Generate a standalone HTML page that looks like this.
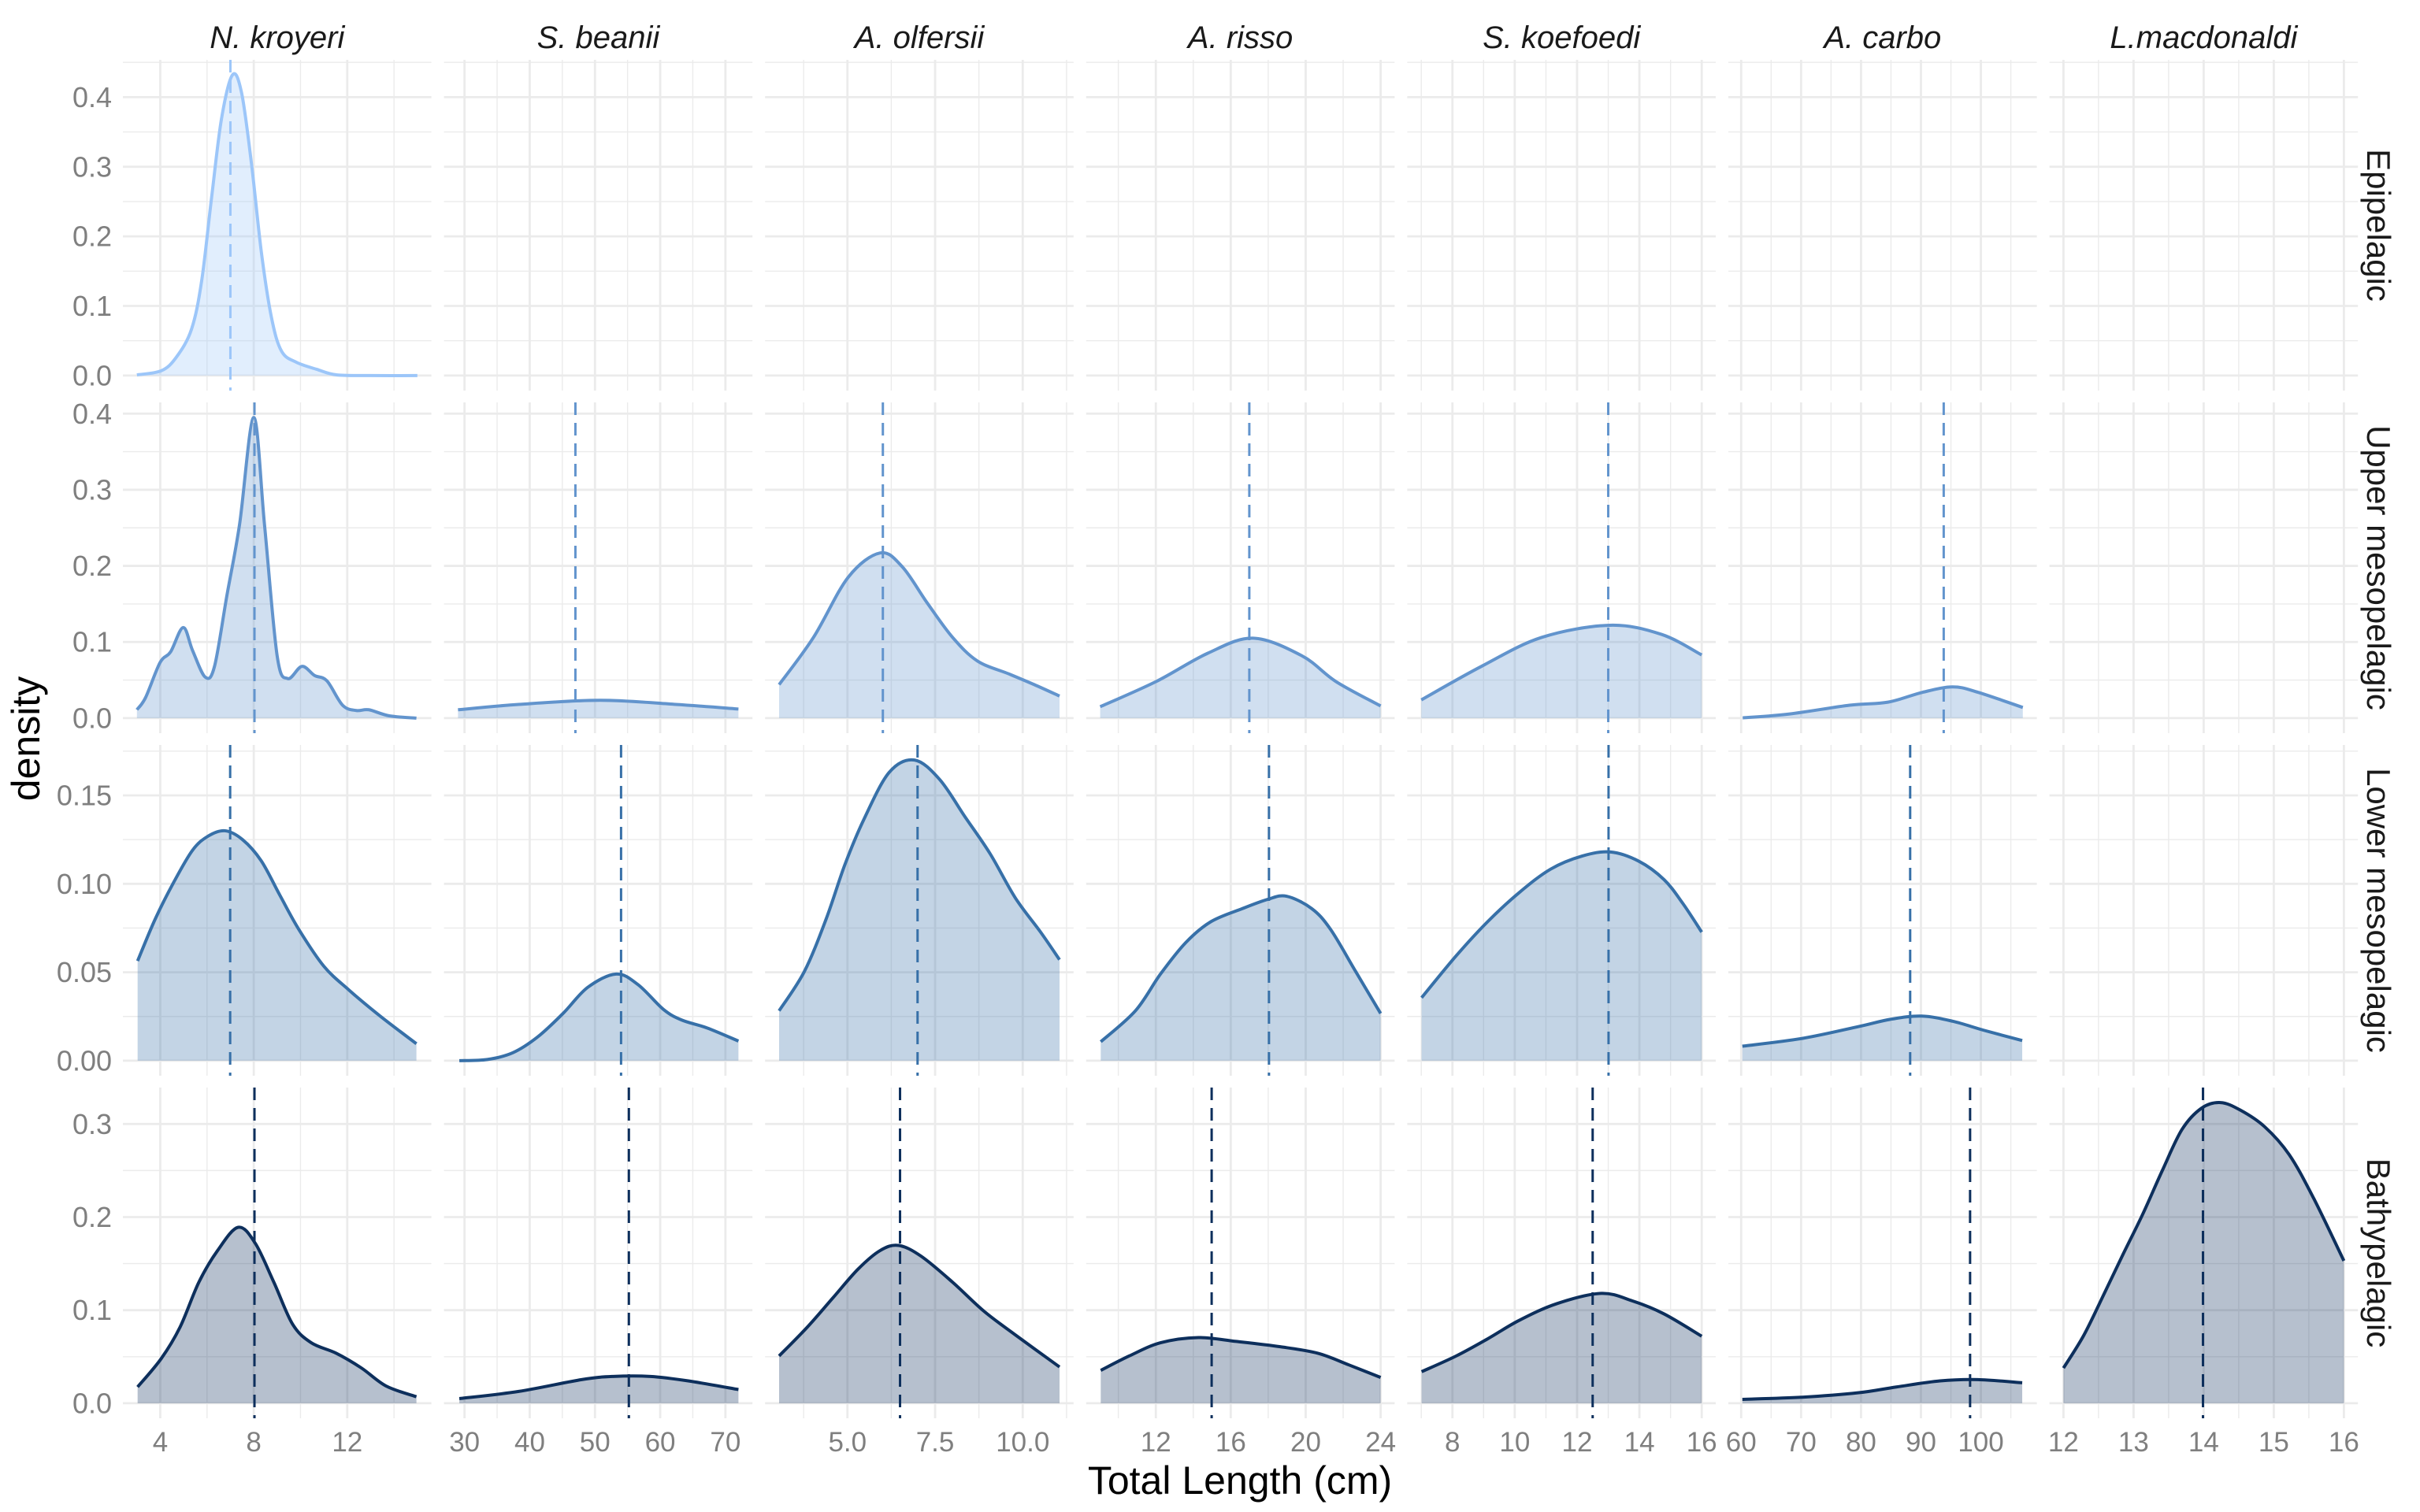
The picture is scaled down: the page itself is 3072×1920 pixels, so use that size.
<!DOCTYPE html>
<html><head><meta charset="utf-8"><style>
html,body{margin:0;padding:0;background:#fff;}
svg{display:block;font-family:"Liberation Sans",Arial,sans-serif;}
</style></head><body>
<svg id="chart" width="3072" height="1920" viewBox="0 0 3072 1920" xmlns="http://www.w3.org/2000/svg">
<rect x="0" y="0" width="3072" height="1920" fill="#fff"/>
<g id="panels"></g>
<text x="1574" y="1897" font-size="50" text-anchor="middle" fill="#000">Total Length (cm)</text>
<text transform="translate(50,938) rotate(-90)" font-size="50" text-anchor="middle" fill="#000">density</text>
</svg>
<script>
const species = ["N. kroyeri","S. beanii","A. olfersii","A. risso","S. koefoedi","A. carbo","L.macdonaldi"];
const zones = ["Epipelagic","Upper mesopelagic","Lower mesopelagic","Bathypelagic"];
const yTicks = [[0,0.1,0.2,0.3,0.4],[0,0.1,0.2,0.3,0.4],[0,0.05,0.10,0.15],[0,0.1,0.2,0.3]];
const yTickLabels = [["0.0","0.1","0.2","0.3","0.4"],["0.0","0.1","0.2","0.3","0.4"],["0.00","0.05","0.10","0.15"],["0.0","0.1","0.2","0.3"]];
const xTicks = [[4,8,12],[30,40,50,60,70],[5,7.5,10],[12,16,20,24],[8,10,12,14,16],[60,70,80,90,100],[12,13,14,15,16]];
const xTickLabels = [["4","8","12"],["30","40","50","60","70"],["5.0","7.5","10.0"],["12","16","20","24"],["8","10","12","14","16"],["60","70","80","90","100"],["12","13","14","15","16"]];
const lineColors = ["#9cc6f9","#6294cd","#3770a8","#0d2f5c"];

const d_r0c0_x = [3.0,4.05,4.7,5.34,5.77,6.2,6.62,7.09,7.48,7.9,8.33,8.76,9.19,9.83,10.69,11.54,13.0,15.0];
const d_r0c0_y = [0.001,0.007,0.027,0.067,0.136,0.257,0.369,0.432,0.406,0.305,0.176,0.083,0.035,0.019,0.009,0.001,0,0];
const mean_r0c0 = 7.0;
const d_r1c0_x = [3.0,3.37,3.99,4.44,4.98,5.38,5.92,6.32,6.85,7.39,8.0,8.46,9.0,9.45,10.06,10.6,11.13,11.8,12.39,12.92,13.8,14.96];
const d_r1c0_y = [0.011,0.027,0.073,0.087,0.119,0.089,0.054,0.068,0.161,0.254,0.395,0.254,0.082,0.052,0.068,0.056,0.049,0.017,0.010,0.011,0.003,0];
const mean_r1c0 = 8.03;
const d_r1c1_x = [29,38.3,50.8,62.4,72];
const d_r1c1_y = [0.011,0.018,0.0234,0.018,0.012];
const mean_r1c1 = 47.0;
const d_r1c2_x = [3.05,4.03,5.02,5.93,6.56,7.28,8.0,8.71,9.61,10.33,11.05];
const d_r1c2_y = [0.044,0.106,0.185,0.217,0.199,0.151,0.106,0.075,0.058,0.044,0.029];
const mean_r1c2 = 6.01;
const d_r1c3_x = [9.03,12.01,14.75,17.18,19.79,21.62,24.0];
const d_r1c3_y = [0.015,0.048,0.085,0.105,0.082,0.048,0.016];
const mean_r1c3 = 16.99;
const d_r1c4_x = [7.0,8.93,10.86,13.06,14.71,16.0];
const d_r1c4_y = [0.024,0.068,0.106,0.122,0.110,0.083];
const mean_r1c4 = 13.0;
const d_r1c5_x = [60.26,68.1,78.1,84.5,90.3,95.3,99.5,107];
const d_r1c5_y = [0.0003,0.0055,0.017,0.021,0.034,0.041,0.034,0.014];
const mean_r1c5 = 93.8;
const d_r2c0_x = [3.03,3.78,4.58,5.38,6.05,6.77,7.52,8.32,9.12,9.93,11.0,12.07,13.41,14.96];
const d_r2c0_y = [0.0564,0.080,0.101,0.119,0.127,0.130,0.125,0.113,0.0935,0.0742,0.0534,0.040,0.0252,0.0096];
const mean_r2c0 = 6.99;
const d_r2c1_x = [29.2,33.5,37.4,41.2,45.1,48.9,53.25,56.6,60.5,63.3,67.2,72];
const d_r2c1_y = [0,0.0007,0.0045,0.0134,0.0267,0.0415,0.049,0.043,0.029,0.023,0.0185,0.0111];
const mean_r2c1 = 54.0;
const d_r2c2_x = [3.05,3.77,4.39,4.93,5.47,6.19,6.91,7.63,8.35,9.07,9.79,10.51,11.05];
const d_r2c2_y = [0.0282,0.0504,0.080,0.111,0.1365,0.163,0.170,0.159,0.138,0.117,0.092,0.0727,0.0571];
const mean_r2c2 = 7.0;
const d_r2c3_x = [9.06,10.91,12.25,13.6,14.94,16.62,17.97,18.98,20.32,21.33,22.67,24.0];
const d_r2c3_y = [0.0107,0.0282,0.049,0.0668,0.0786,0.086,0.0912,0.093,0.086,0.0742,0.0504,0.0267];
const mean_r2c3 = 18.04;
const d_r2c4_x = [7.01,8.12,9.13,10.14,11.15,12.16,13.07,13.98,14.79,15.39,16.0];
const d_r2c4_y = [0.0356,0.0593,0.0786,0.095,0.1083,0.1157,0.118,0.1128,0.1024,0.089,0.0727];
const mean_r2c4 = 13.01;
const d_r2c5_x = [60.2,70.2,79.6,84.9,90.1,95.3,100.6,106.9];
const d_r2c5_y = [0.0082,0.0126,0.0193,0.0234,0.0252,0.0223,0.0171,0.0114];
const mean_r2c5 = 88.2;
const d_r3c0_x = [3.03,4.04,4.85,5.65,6.45,7.33,8.06,8.86,9.66,10.46,11.53,12.6,13.67,14.96];
const d_r3c0_y = [0.0175,0.048,0.082,0.130,0.164,0.189,0.172,0.130,0.085,0.065,0.0537,0.038,0.0184,0.007];
const mean_r3c0 = 8.03;
const d_r3c1_x = [29.2,38.3,47.96,52.76,58.5,64.3,72];
const d_r3c1_y = [0.005,0.0127,0.0254,0.0288,0.0288,0.024,0.0147];
const mean_r3c1 = 55.2;
const d_r3c2_x = [3.05,3.86,4.58,5.3,5.93,6.46,7.1,8.0,8.89,9.79,11.05];
const d_r3c2_y = [0.0508,0.082,0.113,0.144,0.164,0.1695,0.158,0.130,0.099,0.0734,0.039];
const mean_r3c2 = 6.5;
const d_r3c3_x = [9.06,10.58,12.25,14.27,16.29,18.64,20.65,22.33,24.0];
const d_r3c3_y = [0.0353,0.0508,0.065,0.0706,0.0664,0.0607,0.0537,0.041,0.0277];
const mean_r3c3 = 14.98;
const d_r3c4_x = [7.01,8.12,9.13,10.14,11.35,12.77,13.77,14.79,16.0];
const d_r3c4_y = [0.0339,0.0508,0.0692,0.089,0.107,0.118,0.110,0.096,0.072];
const mean_r3c4 = 12.5;
const d_r3c5_x = [60.2,70.2,79.6,85.9,93.2,99.5,106.9];
const d_r3c5_y = [0.0042,0.0065,0.0113,0.0175,0.024,0.0254,0.022];
const mean_r3c5 = 98.2;
const d_r3c6_x = [12.0,12.29,12.57,12.85,13.13,13.41,13.69,13.97,14.24,14.52,14.87,15.22,15.57,16.0];
const d_r3c6_y = [0.0378,0.073,0.116,0.160,0.203,0.250,0.294,0.317,0.323,0.315,0.297,0.267,0.220,0.153];
const mean_r3c6 = 13.99;

const series = [
 {r:0,c:0,x:d_r0c0_x,y:d_r0c0_y,m:mean_r0c0},
 {r:1,c:0,x:d_r1c0_x,y:d_r1c0_y,m:mean_r1c0},
 {r:1,c:1,x:d_r1c1_x,y:d_r1c1_y,m:mean_r1c1},
 {r:1,c:2,x:d_r1c2_x,y:d_r1c2_y,m:mean_r1c2},
 {r:1,c:3,x:d_r1c3_x,y:d_r1c3_y,m:mean_r1c3},
 {r:1,c:4,x:d_r1c4_x,y:d_r1c4_y,m:mean_r1c4},
 {r:1,c:5,x:d_r1c5_x,y:d_r1c5_y,m:mean_r1c5},
 {r:2,c:0,x:d_r2c0_x,y:d_r2c0_y,m:mean_r2c0},
 {r:2,c:1,x:d_r2c1_x,y:d_r2c1_y,m:mean_r2c1},
 {r:2,c:2,x:d_r2c2_x,y:d_r2c2_y,m:mean_r2c2},
 {r:2,c:3,x:d_r2c3_x,y:d_r2c3_y,m:mean_r2c3},
 {r:2,c:4,x:d_r2c4_x,y:d_r2c4_y,m:mean_r2c4},
 {r:2,c:5,x:d_r2c5_x,y:d_r2c5_y,m:mean_r2c5},
 {r:3,c:0,x:d_r3c0_x,y:d_r3c0_y,m:mean_r3c0},
 {r:3,c:1,x:d_r3c1_x,y:d_r3c1_y,m:mean_r3c1},
 {r:3,c:2,x:d_r3c2_x,y:d_r3c2_y,m:mean_r3c2},
 {r:3,c:3,x:d_r3c3_x,y:d_r3c3_y,m:mean_r3c3},
 {r:3,c:4,x:d_r3c4_x,y:d_r3c4_y,m:mean_r3c4},
 {r:3,c:5,x:d_r3c5_x,y:d_r3c5_y,m:mean_r3c5},
 {r:3,c:6,x:d_r3c6_x,y:d_r3c6_y,m:mean_r3c6}
];

const NS = "http://www.w3.org/2000/svg";
const root = document.getElementById("panels");
const PL = 156, PW = 391.6, PSTEP = 407.6, PT = 76, PH = 420, RSTEP = 435;

function mk(tag, attrs, parent){
  const e = document.createElementNS(NS, tag);
  for (const k in attrs) e.setAttribute(k, attrs[k]);
  parent.appendChild(e);
  return e;
}

const xDom = [], yDom = [];
for (let c = 0; c < species.length; c++){
  let lo = Infinity, hi = -Infinity;
  series.filter(s => s.c === c).forEach(s => { lo = Math.min(lo, ...s.x); hi = Math.max(hi, ...s.x); });
  const pad = (hi - lo) * 0.05;
  xDom.push([lo - pad, hi + pad]);
}
for (let r = 0; r < zones.length; r++){
  let hi = 0;
  series.filter(s => s.r === r).forEach(s => { hi = Math.max(hi, ...s.y); });
  yDom.push([-hi * 0.05, hi * 1.05]);
}
function sx(c, v){ const d = xDom[c]; return PL + c*PSTEP + (v - d[0]) / (d[1] - d[0]) * PW; }
function sy(r, v){ const d = yDom[r]; return PT + r*RSTEP + PH - (v - d[0]) / (d[1] - d[0]) * PH; }

function minorsOf(t){
  const step = t[1] - t[0], out = [t[0] - step/2];
  for (let i = 0; i < t.length - 1; i++) out.push((t[i] + t[i+1]) / 2);
  out.push(t[t.length-1] + step/2);
  return out;
}

for (let r = 0; r < zones.length; r++){
  for (let c = 0; c < species.length; c++){
    const g = mk("g", {}, root);
    
    
    const x0 = PL + c*PSTEP, y0 = PT + r*RSTEP;
    const xd = xDom[c], yd = yDom[r];
    minorsOf(xTicks[c]).forEach(v => { if (v > xd[0] && v < xd[1]) { const X = sx(c, v);
      const l = mk("line", {x1:X, x2:X, y1:y0, y2:y0+PH, stroke:"#ebebeb", "stroke-width":1.4}, g);
        }});
    minorsOf(yTicks[r]).forEach(v => { if (v > yd[0] && v < yd[1]) { const Y = sy(r, v);
      const l = mk("line", {x1:x0, x2:x0+PW, y1:Y, y2:Y, stroke:"#ebebeb", "stroke-width":1.4}, g);
        }});
    xTicks[c].forEach(v => { if (v >= xd[0] && v <= xd[1]) { const X = sx(c, v);
      const l = mk("line", {x1:X, x2:X, y1:y0, y2:y0+PH, stroke:"#ebebeb", "stroke-width":2.8}, g);
        }});
    yTicks[r].forEach(v => { const Y = sy(r, v);
      const l = mk("line", {x1:x0, x2:x0+PW, y1:Y, y2:Y, stroke:"#ebebeb", "stroke-width":2.8}, g);
        });
  }
}

function smooth(pts){
  let d = "M" + pts[0][0].toFixed(2) + "," + pts[0][1].toFixed(2);
  for (let i = 0; i < pts.length - 1; i++){
    const p0 = pts[Math.max(0,i-1)], p1 = pts[i], p2 = pts[i+1], p3 = pts[Math.min(pts.length-1,i+2)];
    const c1 = [p1[0] + (p2[0]-p0[0])/6, p1[1] + (p2[1]-p0[1])/6];
    const c2 = [p2[0] - (p3[0]-p1[0])/6, p2[1] - (p3[1]-p1[1])/6];
    d += "C" + c1[0].toFixed(2) + "," + c1[1].toFixed(2) + " " + c2[0].toFixed(2) + "," + c2[1].toFixed(2) + " " + p2[0].toFixed(2) + "," + p2[1].toFixed(2);
  }
  return d;
}

series.forEach(s => {
  const pts = s.x.map((v, i) => [sx(s.c, v), sy(s.r, s.y[i])]);
  const base = sy(s.r, 0);
  const line = smooth(pts);
  const col = lineColors[s.r];
  const area = mk("path", {d: line + "L" + pts[pts.length-1][0].toFixed(2) + "," + base.toFixed(2) + "L" + pts[0][0].toFixed(2) + "," + base.toFixed(2) + "Z", fill: col, "fill-opacity": 0.3, stroke: "none"}, root);
  
  
  const ln = mk("path", {d: line, fill: "none", stroke: col, "stroke-width": 4, "stroke-linejoin": "round"}, root);
  
  
  const X = sx(s.c, s.m), y0 = PT + s.r*RSTEP;
  const ml = mk("line", {x1: X, x2: X, y1: y0, y2: y0 + PH, stroke: col, "stroke-width": 3, "stroke-dasharray": "16 10"}, root);
  
  
});

for (let r = 0; r < zones.length; r++){
  yTicks[r].forEach((v, i) => {
    const t = mk("text", {x: 142, y: sy(r, v) + 12.5, "font-size": 36, "text-anchor": "end", fill: "#7f7f7f"}, root);
    t.textContent = yTickLabels[r][i];
    
    
  });
  const sl = mk("text", {transform: "translate(3005," + (PT + r*RSTEP + PH/2) + ") rotate(90)", "font-size": 42, "text-anchor": "middle", fill: "#1a1a1a"}, root);
  sl.textContent = zones[r];
  
  
}
for (let c = 0; c < species.length; c++){
  xTicks[c].forEach((v, i) => {
    const t = mk("text", {x: sx(c, v), y: 1843, "font-size": 35, "text-anchor": "middle", fill: "#7f7f7f"}, root);
    t.textContent = xTickLabels[c][i];
    
    
  });
  const st = mk("text", {x: PL + c*PSTEP + PW/2, y: 61, "font-size": 40, "font-style": "italic", "text-anchor": "middle", fill: "#1a1a1a"}, root);
  st.textContent = species[c];
  
  
}
</script>
</body></html>
